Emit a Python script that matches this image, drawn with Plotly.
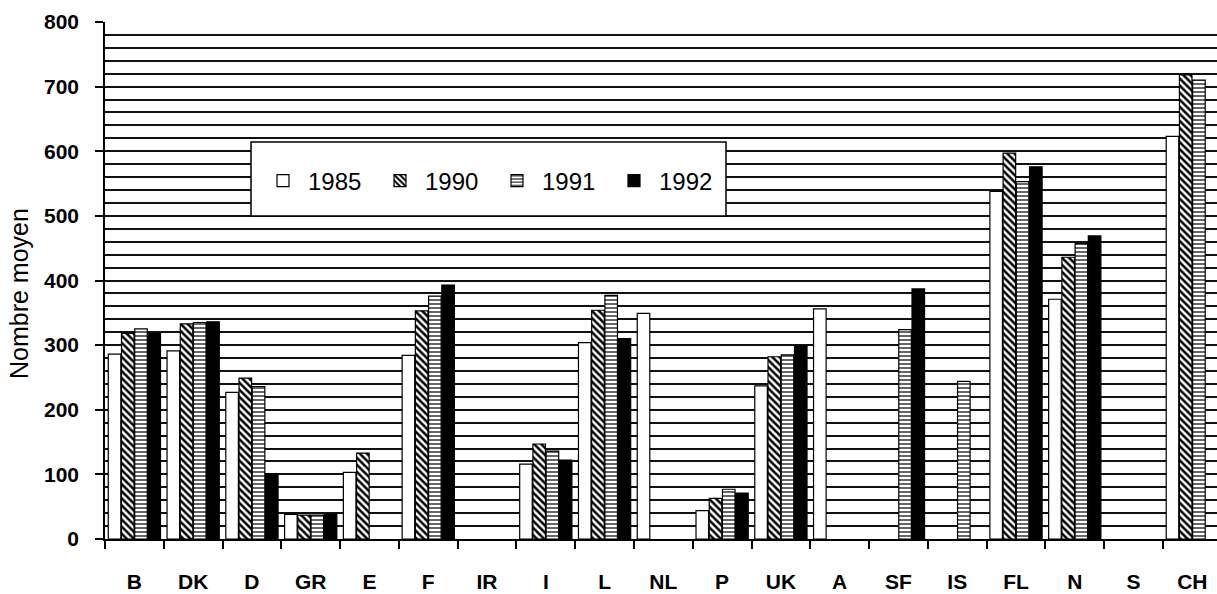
import plotly.graph_objects as go

categories = ["B", "DK", "D", "GR", "E", "F", "IR", "I", "L", "NL", "P", "UK",
              "A", "SF", "IS", "FL", "N", "S", "CH"]
years = ["1985", "1990", "1991", "1992"]
v1985 = [286, 291, 227, 38, 103, 284, None, 116, 304, 349, 44, 237, 356, None, None, 538, 371, None, 623]
v1990 = [318, 333, 249, 37, 133, 353, None, 147, 354, None, 63, 282, None, None, None, 597, 436, None, 718]
v1991 = [325, 335, 236, 37, None, 376, None, 136, 377, None, 77, 285, None, 324, 244, 553, 457, None, 710]
v1992 = [318, 336, 101, 38, None, 393, None, 122, 310, None, 71, 299, None, 387, None, 576, 469, None, None]
y_ticks = [0, 100, 200, 300, 400, 500, 600, 700, 800]

W, H = 1217, 594
ML, MR, MT, MB = 105, 0, 22, 55
PW, PH = W - ML - MR, H - MT - MB

def px_x(x):
    return (x - ML) / PW

def px_y(y):
    return (H - MB - y) / PH

patterns = [
    dict(shape="", bgcolor="white"),
    dict(shape="\\", fgcolor="black", bgcolor="white", size=5, solidity=0.5, fillmode="replace"),
    dict(shape="-", fgcolor="black", bgcolor="white", size=4, solidity=0.3, fillmode="replace"),
    dict(shape="", bgcolor="black"),
]
colors = ["white", "white", "white", "black"]

fig = go.Figure()
for name, vals, pat, col in zip(years, [v1985, v1990, v1991, v1992], patterns, colors):
    fig.add_trace(go.Bar(
        x=categories, y=vals, name=name,
        marker=dict(color=col, line=dict(color="black", width=1.2), pattern=pat),
    ))

grid_col = "#111111"
fig.update_layout(
    width=W, height=H,
    margin=dict(l=ML, r=MR, t=MT, b=MB, pad=0),
    paper_bgcolor="white", plot_bgcolor="white",
    barmode="group", bargap=0.1, bargroupgap=0.05,
    font=dict(family="Liberation Sans", color="black"),
    showlegend=True,
    legend=dict(
        orientation="h", x=px_x(258), xanchor="left", y=px_y(181), yanchor="middle",
        bgcolor="rgba(0,0,0,0)", borderwidth=0,
        font=dict(family="Liberation Sans", size=24, color="black"),
        entrywidth=62, entrywidthmode="pixels", itemwidth=40,
    ),
    xaxis=dict(
        type="category", categoryorder="array", categoryarray=categories,
        range=[-0.5, 18.42], tickson="boundaries",
        ticks="outside", ticklen=8, tickwidth=1.5, tickcolor="black",
        showline=True, linecolor="black", linewidth=1.5,
        showgrid=False, ticklabelstandoff=23,
        tickfont=dict(family="Liberation Sans", size=21, color="black", weight="bold"),
    ),
    yaxis=dict(
        range=[0, 800], tickvals=y_ticks,
        ticks="outside", ticklen=8, tickwidth=1.5, tickcolor="black",
        showline=True, linecolor="black", linewidth=1.5,
        showgrid=True, gridcolor=grid_col, gridwidth=1.6,
        minor=dict(dtick=20, showgrid=True, gridcolor=grid_col, gridwidth=1.6, ticks=""),
        zeroline=False, ticklabelstandoff=12,
        tickfont=dict(family="Liberation Sans", size=21, color="black", weight="bold"),
    ),
    shapes=[dict(
        type="rect", xref="paper", yref="paper",
        x0=px_x(251), x1=px_x(726), y0=px_y(216), y1=px_y(142),
        fillcolor="white", line=dict(color="black", width=1.5), layer="above",
    )],
    annotations=[dict(
        text="Nombre moyen", textangle=-90, showarrow=False,
        xref="paper", yref="paper", x=px_x(19), y=px_y(294),
        xanchor="center", yanchor="middle",
        font=dict(family="Liberation Sans", size=25, color="black"),
    )],
)

fig.write_html("out.html", config={"displayModeBar": False},
               post_script="document.body.style.margin='0px';")
